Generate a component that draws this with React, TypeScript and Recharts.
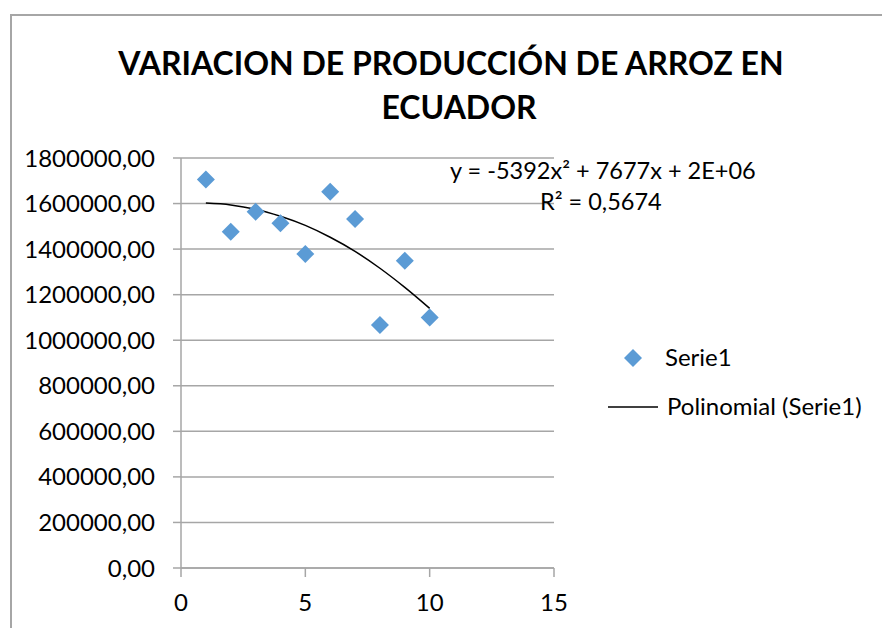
import React from "react";
import { ComposedChart, Scatter, Line, XAxis, YAxis, CartesianGrid, ZAxis } from "recharts";

const xValues = [1, 2, 3, 4, 5, 6, 7, 8, 9, 10];
const serie1 = [1706000, 1476000, 1564000, 1513000, 1379000, 1652000, 1532000, 1067000, 1349000, 1100000];
const trend = [1602000, 1594000, 1575000, 1544000, 1504000, 1452000, 1390000, 1316000, 1232000, 1140000];
const yTicks = [0, 200000, 400000, 600000, 800000, 1000000, 1200000, 1400000, 1600000, 1800000];
const xTicks = [0, 5, 10, 15];

const pointData = xValues.map((x, i) => ({ x, y: serie1[i] }));
const trendData = xValues.map((x, i) => ({ x, t: trend[i] }));

const FONT = "Lato, 'Open Sans', sans-serif";
const GRID = "#a6a6a6";
const BLUE = "#5b9bd5";

const Diamond = (props: any) => {
  const { cx, cy } = props;
  const r = 9;
  return (
    <polygon
      points={`${cx},${cy - r} ${cx + r},${cy} ${cx},${cy + r} ${cx - r},${cy}`}
      fill={BLUE}
    />
  );
};

const fmt = (v: number) => v.toFixed(2).replace(".", ",");

const App: React.FC = () => {
  return (
    <div style={{ position: "absolute", left: 0, top: 0, width: 882, height: 628, overflow: "hidden", background: "#fff" }}>
      <div
        style={{
          position: "absolute",
          left: 10,
          top: 14,
          width: 900,
          height: 700,
          borderLeft: `2px solid ${GRID}`,
          borderTop: `2px solid ${GRID}`,
        }}
      />
      <div style={{ position: "absolute", left: 0, top: 0 }}>
        <ComposedChart width={882} height={628} margin={{ top: 158, right: 328, bottom: 0, left: 0 }}>
          <CartesianGrid horizontal vertical={false} stroke={GRID} strokeWidth={1.5} />
          <XAxis
            type="number"
            dataKey="x"
            domain={[0, 15]}
            ticks={xTicks}
            height={60}
            tickSize={9}
            tickMargin={17}
            axisLine={{ stroke: GRID, strokeWidth: 1.5 }}
            tickLine={{ stroke: GRID, strokeWidth: 1.5 }}
            tick={{ fill: "#000", fontSize: 24, fontFamily: FONT }}
            allowDuplicatedCategory={false}
          />
          <YAxis
            type="number"
            domain={[0, 1800000]}
            ticks={yTicks}
            width={181}
            tickSize={8}
            tickMargin={18}
            tickFormatter={fmt}
            axisLine={{ stroke: GRID, strokeWidth: 1.5 }}
            tickLine={{ stroke: GRID, strokeWidth: 1.5 }}
            tick={{ fill: "#000", fontSize: 24, fontFamily: FONT }}
          />
          <ZAxis range={[160, 160]} />
          <Scatter data={pointData} dataKey="y" fill={BLUE} shape={<Diamond />} isAnimationActive={false} />
          <Line
            data={trendData}
            dataKey="t"
            type="monotone"
            stroke="#000"
            strokeWidth={1.5}
            dot={false}
            activeDot={false}
            isAnimationActive={false}
          />
        </ComposedChart>
      </div>
      <svg width={882} height={628} style={{ position: "absolute", left: 0, top: 0, pointerEvents: "none" }}>
        <g fontFamily={FONT} fill="#000">
          <text x={451} y={75} textAnchor="middle" fontSize={32} fontWeight={700}>
            VARIACION DE PRODUCCIÓN DE ARROZ EN
          </text>
          <text x={459} y={119} textAnchor="middle" fontSize={32} fontWeight={700}>
            ECUADOR
          </text>
          <text x={450} y={179} fontSize={23.5}>
            y = -5392x² + 7677x + 2E+06
          </text>
          <text x={540} y={210} fontSize={23.5}>
            R² = 0,5674
          </text>
          <polygon points="633,349 642,358 633,367 624,358" fill={BLUE} />
          <text x={665} y={366} fontSize={24}>Serie1</text>
          <line x1={608} y1={407} x2={658} y2={407} stroke="#000" strokeWidth={1.5} />
          <text x={667} y={415} fontSize={24}>Polinomial (Serie1)</text>
        </g>
      </svg>
    </div>
  );
};

export default App;
